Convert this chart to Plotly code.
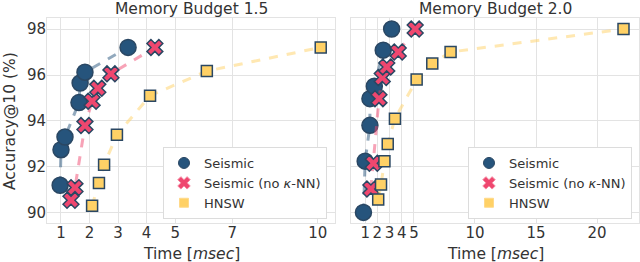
import plotly.graph_objects as go

# ---- data ----
left_seismic_x = [0.97, 1.0, 1.14, 1.63, 1.67, 1.84, 3.35]
left_seismic_y = [91.2, 92.75, 93.3, 94.8, 95.65, 96.12, 97.2]
left_noknn_x = [1.35, 1.49, 1.84, 2.09, 2.29, 2.75, 4.29]
left_noknn_y = [90.55, 91.1, 93.8, 94.86, 95.42, 96.05, 97.2]
left_hnsw_x = [2.09, 2.33, 2.51, 2.96, 4.12, 6.11, 10.1]
left_hnsw_y = [90.31, 91.3, 92.1, 93.4, 95.1, 96.17, 97.2]

right_seismic_x = [0.86, 1.0, 1.39, 1.39, 1.75, 2.48, 3.17]
right_seismic_y = [90.02, 92.25, 93.81, 94.97, 95.51, 97.08, 98.0]
right_noknn_x = [1.47, 1.67, 2.13, 2.4, 2.77, 3.71, 5.1]
right_noknn_y = [91.04, 92.16, 94.97, 95.89, 96.35, 97.0, 98.0]
right_hnsw_x = [2.07, 2.3, 2.58, 2.85, 3.44, 5.22, 6.5, 8.0, 22.17]
right_hnsw_y = [90.58, 91.23, 92.25, 93.0, 94.1, 95.8, 96.5, 97.0, 98.0]

left_ticks = [1, 2, 3, 4, 5, 7, 10]
right_ticks = [1, 2, 3, 4, 5, 10, 15, 20]
y_ticks = [90, 92, 94, 96, 98]

titles = ["Memory Budget 1.5", "Memory Budget 2.0"]
names = ["Seismic", "Seismic (no <i>κ</i>-NN)", "HNSW"]

NAVY = "#26547c"
PINK = "#ef476f"
YELLOW = "#ffd166"
EDGE = "#2a4763"
LINE_COLORS = ["rgba(38,84,124,0.5)", "rgba(239,71,111,0.5)", "rgba(255,209,102,0.5)"]
FILL = [NAVY, PINK, YELLOW]
LEG_EDGE = [EDGE, "#f58aa3", "#ffd98a"]
SYMBOLS = ["circle", "x", "square"]
SIZES = [16, 14, 11]
LEG_SIZES = [11, 11, 9]

FONT = "DejaVu Sans"
TXT = "#333333"

fig = go.Figure()

panels = [
    ("x", "y", "legend", [(left_seismic_x, left_seismic_y), (left_noknn_x, left_noknn_y), (left_hnsw_x, left_hnsw_y)]),
    ("x2", "y2", "legend2", [(right_seismic_x, right_seismic_y), (right_noknn_x, right_noknn_y), (right_hnsw_x, right_hnsw_y)]),
]

for xa, ya, lg, series in panels:
    for i, (sx, sy) in enumerate(series):
        fig.add_trace(go.Scatter(
            x=sx, y=sy, xaxis=xa, yaxis=ya, mode="lines",
            line=dict(color=LINE_COLORS[i], width=3, dash="dash"),
            showlegend=False, hoverinfo="skip"))
        fig.add_trace(go.Scatter(
            x=sx, y=sy, xaxis=xa, yaxis=ya, mode="markers", name=names[i],
            showlegend=False,
            marker=dict(symbol=SYMBOLS[i], size=SIZES[i], color=FILL[i],
                        line=dict(color=EDGE, width=1.5))))
    # legend-only entries with smaller markers
    for i in range(3):
        fig.add_trace(go.Scatter(
            x=[None], y=[None], xaxis=xa, yaxis=ya, mode="markers", name=names[i],
            legend=lg,
            marker=dict(symbol=SYMBOLS[i], size=LEG_SIZES[i], color=FILL[i],
                        line=dict(color=LEG_EDGE[i], width=1))))

axis_common = dict(showgrid=True, gridcolor="#e3e3e3", gridwidth=1,
                   showline=True, linecolor="#e3e3e3", linewidth=1, mirror=True,
                   zeroline=False, ticks="",
                   tickfont=dict(family=FONT, size=15, color=TXT))

legend_common = dict(xanchor="right", yanchor="top",
                     bgcolor="white", bordercolor="#dcdcdc", borderwidth=1,
                     font=dict(family=FONT, size=13, color=TXT), itemsizing="trace",
                     tracegroupgap=0)

fig.update_layout(
    width=640, height=262,
    margin=dict(l=0, r=0, t=0, b=0),
    paper_bgcolor="white", plot_bgcolor="white",
    font=dict(family=FONT, color=TXT),
    xaxis=dict(domain=[47/640, 335/640], range=[0.51, 10.6], tickvals=left_ticks,
               anchor="y", ticklabelstandoff=-4, **axis_common),
    xaxis2=dict(domain=[351/640, 639/640], range=[-0.16, 23.44], tickvals=right_ticks,
                anchor="y2", ticklabelstandoff=-4, **axis_common),
    yaxis=dict(domain=[39/262, 244/262], range=[89.56, 98.48], tickvals=y_ticks,
               anchor="x", ticklabelstandoff=-3, **axis_common),
    yaxis2=dict(domain=[39/262, 244/262], range=[89.56, 98.48], tickvals=y_ticks,
                anchor="x2", matches="y", showticklabels=False, **axis_common),
    legend=dict(x=327/640, y=(262-147)/262, **legend_common),
    legend2=dict(x=632/640, y=(262-147)/262, **legend_common),
)

def ann(text, x, y, angle=0, size=15.5):
    return dict(text=text, x=x/640, y=1 - y/262, xref="paper", yref="paper",
                xanchor="center", yanchor="middle", showarrow=False, textangle=angle,
                font=dict(family=FONT, size=size, color=TXT))

fig.update_layout(annotations=[
    ann(titles[0], 191, 9),
    ann(titles[1], 495, 9),
    ann("Time [<i>msec</i>]", 191, 254),
    ann("Time [<i>msec</i>]", 495, 254),
    ann("Accuracy@10 (%)", 10, 121, angle=-90),
])

fig.write_html("out.html", config={"displayModeBar": False},
               post_script="document.body.style.margin='0';document.body.style.overflow='hidden';")
